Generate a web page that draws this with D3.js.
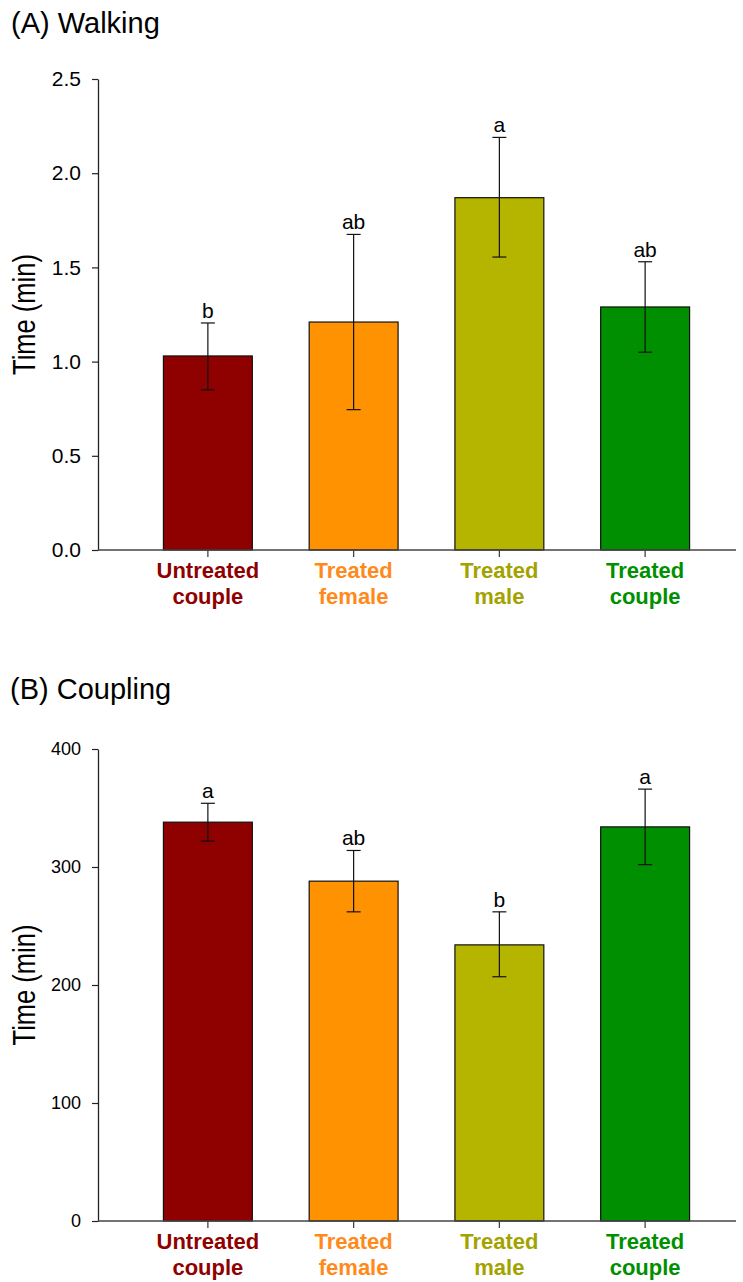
<!DOCTYPE html>
<html><head><meta charset="utf-8">
<script src="https://cdn.jsdelivr.net/npm/d3@7"></script>
<style>body{margin:0;background:#fff}svg{display:block}</style>
</head><body>
<svg id="c" width="743" height="1282"></svg>
<script>
const categories = [["Untreated","couple"],["Treated","female"],["Treated","male"],["Treated","couple"]];
const barColors = ["#8f0000","#ff9200","#b5b500","#008f00"];
const labelColors = ["#8f0000","#ff8a1c","#a3a300","#009000"];

const walkMean = [1.03, 1.21, 1.87, 1.29];
const walkUpper = [1.205, 1.675, 2.19, 1.53];
const walkLower = [0.85, 0.745, 1.555, 1.05];
const walkLetters = ["b","ab","a","ab"];
const walkTicks = [0, 0.5, 1.0, 1.5, 2.0, 2.5];

const coupMean = [338, 288, 234, 334];
const coupUpper = [354, 314, 262, 366];
const coupLower = [322, 262, 207, 302];
const coupLetters = ["a","ab","b","a"];
const coupTicks = [0, 100, 200, 300, 400];

const svg = d3.select("#c");
const font = "Arial, 'Liberation Sans', sans-serif";
const narrow = "'Liberation Sans Narrow', 'Arial Narrow', Arial, sans-serif";

function panel(o){
  const g = svg.append("g");
  g.append("text").attr("x", o.titleX).attr("y", o.titleY).attr("font-family", font)
    .attr("font-size", 29).attr("fill","#000").text(o.title);
  const y = d3.scaleLinear().domain(o.domain).range([o.y0, o.y1]);
  const x = d3.scaleBand().domain(d3.range(categories.length)).range([135, 718]).paddingInner(0.39).paddingOuter(0.195);
  const cx = i => x(i)+x.bandwidth()/2;
  // bars
  g.selectAll("rect.bar").data(o.mean).join("rect")
    .attr("x", (d,i)=>x(i)).attr("width", x.bandwidth())
    .attr("y", d=>y(d)).attr("height", d=>y(0)-y(d))
    .attr("fill", (d,i)=>barColors[i]).attr("stroke","#111").attr("stroke-width",1.2);
  // error bars
  const eb = g.selectAll("g.eb").data(o.mean).join("g");
  eb.append("line").attr("x1",(d,i)=>cx(i)).attr("x2",(d,i)=>cx(i))
    .attr("y1",(d,i)=>y(o.upper[i])).attr("y2",(d,i)=>y(o.lower[i])).attr("stroke","#111").attr("stroke-width",1.2);
  eb.append("line").attr("x1",(d,i)=>cx(i)-7).attr("x2",(d,i)=>cx(i)+7)
    .attr("y1",(d,i)=>y(o.upper[i])).attr("y2",(d,i)=>y(o.upper[i])).attr("stroke","#111").attr("stroke-width",1.2);
  eb.append("line").attr("x1",(d,i)=>cx(i)-7).attr("x2",(d,i)=>cx(i)+7)
    .attr("y1",(d,i)=>y(o.lower[i])).attr("y2",(d,i)=>y(o.lower[i])).attr("stroke","#111").attr("stroke-width",1.2);
  // letters
  g.selectAll("text.lt").data(o.letters).join("text")
    .attr("x",(d,i)=>cx(i)).attr("y",(d,i)=>y(o.upper[i])-5)
    .attr("text-anchor","middle").attr("font-family",font).attr("font-size",21).attr("fill","#000").text(d=>d);
  // y axis
  const ya = g.append("g").attr("transform","translate(98,0)")
    .call(d3.axisLeft(y).tickValues(o.ticks).tickFormat(o.fmt).tickSize(6).tickSizeOuter(0).tickPadding(11));
  ya.select(".domain").attr("stroke","#222").attr("stroke-width",1.3);
  ya.selectAll(".tick line").attr("stroke","#222").attr("stroke-width",1.2);
  ya.selectAll(".tick text").attr("font-family",font).attr("font-size",o.tickFont).attr("fill","#000");
  // x axis
  const xa = g.append("g").attr("transform",`translate(0,${o.y0})`);
  xa.append("line").attr("x1",98).attr("x2",736).attr("y1",0).attr("y2",0).attr("stroke","#444").attr("stroke-width",1.6);
  const xg = xa.append("g").call(d3.axisBottom(x).tickSize(7).tickSizeOuter(0).tickFormat(""));
  xg.select(".domain").remove();
  xg.selectAll(".tick line").attr("stroke","#444").attr("stroke-width",1.3);
  // category labels
  categories.forEach((c,i)=>{
    const t = g.append("text").attr("x", cx(i)).attr("y", o.y0+28)
      .attr("text-anchor","middle").attr("font-family",narrow).attr("font-weight","bold")
      .attr("font-size",22).attr("fill",labelColors[i]);
    t.append("tspan").attr("x", cx(i)).attr("dy",0).text(c[0]);
    t.append("tspan").attr("x", cx(i)).attr("dy",26).text(c[1]);
  });
  // y title
  g.append("text").attr("transform",`translate(35,${(o.y0+o.y1)/2}) rotate(-90) scale(1,1.25)`)
    .attr("text-anchor","middle").attr("font-family",font).attr("font-size",25.5).attr("fill","#000").text("Time (min)");
}

panel({title:"(A) Walking", titleX:11, titleY:33, domain:[0,2.5], y0:550, y1:79,
  mean:walkMean, upper:walkUpper, lower:walkLower, letters:walkLetters, ticks:walkTicks,
  fmt:d3.format(".1f"), tickFont:21});
panel({title:"(B) Coupling", titleX:10, titleY:699, domain:[0,400], y0:1221, y1:749,
  mean:coupMean, upper:coupUpper, lower:coupLower, letters:coupLetters, ticks:coupTicks,
  fmt:d3.format("d"), tickFont:18});
</script>
</body></html>
